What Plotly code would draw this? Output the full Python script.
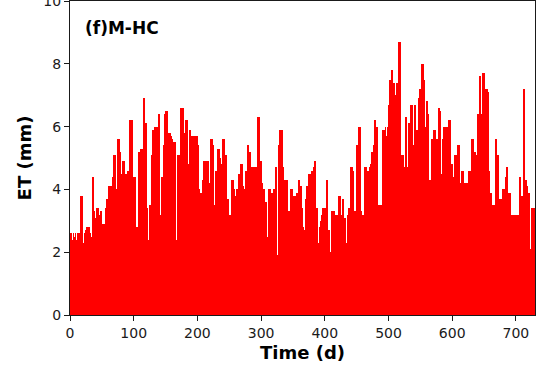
import numpy as np
import plotly.graph_objects as go

# Daily ET (mm), day 0..729
et_values = [
    2.6, 2.5, 2.6, 2.4, 2.3, 2.6, 2.5, 2.3, 2.6, 2.4,
    2.3, 2.6, 2.5, 2.4, 2.6, 2.6, 3.8, 3.8, 3.8, 3.8,
    2.3, 2.2, 2.0, 2.6, 2.7, 2.6, 2.8, 2.8, 2.8, 2.7,
    2.8, 2.6, 2.5, 2.2, 1.5, 4.4, 4.4, 3.3, 3.3, 3.1,
    3.0, 3.0, 3.4, 3.4, 3.4, 2.7, 3.2, 3.2, 3.3, 3.3,
    2.9, 2.9, 2.9, 2.9, 1.7, 1.7, 3.4, 3.4, 3.7, 3.7,
    3.7, 4.1, 4.1, 4.1, 4.1, 3.7, 4.4, 4.4, 4.4, 5.1,
    5.1, 5.1, 4.0, 3.6, 3.4, 5.6, 5.6, 5.6, 5.2, 5.2,
    4.5, 4.5, 4.5, 4.9, 4.9, 4.4, 4.4, 4.5, 4.4, 4.4,
    3.3, 4.6, 4.6, 4.6, 6.2, 6.2, 6.2, 6.2, 4.4, 4.4,
    4.4, 4.4, 4.4, 2.4, 2.8, 2.8, 2.2, 2.2, 5.2, 5.2,
    5.3, 5.3, 5.3, 5.3, 5.3, 6.9, 6.9, 6.1, 6.1, 6.1,
    3.4, 3.4, 2.4, 2.4, 2.4, 3.5, 3.5, 3.5, 5.1, 5.1,
    5.9, 5.9, 6.0, 6.0, 6.0, 6.0, 6.0, 6.0, 6.0, 6.4,
    6.4, 3.2, 3.2, 4.4, 4.4, 4.4, 5.4, 5.4, 5.4, 6.4,
    6.5, 6.5, 6.5, 4.4, 4.4, 5.8, 5.8, 5.7, 5.7, 5.6,
    5.6, 5.5, 5.5, 5.5, 5.5, 5.5, 2.4, 2.4, 5.1, 5.1,
    5.1, 5.1, 5.1, 6.5, 6.6, 6.6, 6.6, 6.6, 5.8, 5.8,
    5.7, 5.7, 6.2, 6.2, 6.2, 4.8, 4.8, 5.9, 5.9, 5.6,
    5.6, 5.7, 5.7, 5.7, 5.7, 5.2, 5.2, 5.7, 5.7, 5.7,
    5.4, 5.4, 4.0, 4.0, 3.9, 3.9, 3.5, 3.5, 4.3, 4.3,
    4.9, 4.9, 4.9, 4.9, 4.5, 4.5, 4.9, 4.9, 4.2, 4.2,
    4.2, 5.6, 5.6, 5.4, 5.4, 2.8, 2.8, 3.5, 3.5, 4.6,
    4.6, 5.3, 5.3, 5.3, 5.3, 5.0, 5.0, 4.8, 4.8, 5.6,
    5.6, 5.6, 5.6, 5.1, 5.1, 5.1, 3.7, 3.7, 3.7, 3.2,
    3.2, 3.2, 2.9, 2.9, 4.3, 4.3, 4.0, 4.0, 3.7, 3.7,
    3.8, 3.8, 4.0, 4.0, 4.5, 4.5, 4.4, 4.4, 4.8, 4.8,
    4.8, 4.1, 4.1, 4.0, 4.0, 4.6, 4.6, 4.0, 4.0, 5.4,
    5.4, 5.2, 5.2, 3.8, 3.8, 4.7, 4.7, 4.7, 4.7, 4.6,
    4.6, 4.7, 4.7, 4.7, 4.7, 6.3, 6.3, 6.3, 4.9, 4.9,
    4.2, 4.2, 4.0, 4.0, 4.0, 3.6, 3.6, 3.6, 3.6, 2.5,
    2.5, 4.0, 4.0, 4.0, 4.0, 3.9, 3.9, 3.9, 2.6, 2.6,
    4.0, 4.0, 4.7, 4.7, 1.9, 1.9, 1.4, 5.4, 5.4, 5.9,
    5.9, 5.9, 5.9, 4.7, 4.7, 4.3, 4.3, 4.3, 3.7, 3.7,
    4.3, 4.3, 3.3, 3.3, 2.6, 2.6, 4.0, 4.0, 4.0, 4.0,
    3.8, 3.8, 3.8, 3.8, 3.2, 3.2, 3.9, 3.9, 4.3, 4.3,
    4.3, 4.1, 4.1, 3.4, 3.4, 2.8, 2.8, 2.7, 2.7, 3.7,
    3.7, 4.1, 4.1, 4.1, 4.5, 4.5, 4.5, 3.7, 3.7, 4.6,
    4.6, 4.6, 4.6, 4.7, 4.9, 4.9, 3.3, 3.4, 2.3, 2.3,
    2.3, 2.8, 2.8, 3.0, 3.0, 3.2, 3.2, 3.4, 3.4, 3.4,
    3.4, 3.4, 4.3, 4.3, 4.3, 2.7, 2.7, 2.4, 2.0, 2.0,
    3.3, 3.3, 3.3, 3.3, 3.3, 2.2, 2.2, 3.2, 3.2, 3.2,
    3.2, 3.2, 3.8, 3.8, 3.2, 3.2, 3.2, 3.2, 3.7, 3.7,
    3.1, 3.1, 2.3, 2.3, 2.3, 3.2, 3.2, 3.4, 3.4, 2.1,
    2.1, 4.7, 4.7, 4.6, 4.6, 2.9, 2.9, 3.3, 3.3, 5.4,
    5.4, 5.4, 5.4, 6.0, 6.0, 6.0, 3.3, 3.3, 3.2, 3.2,
    3.1, 3.1, 4.7, 4.7, 4.7, 4.7, 4.6, 4.6, 4.4, 4.4,
    4.7, 4.7, 4.8, 4.8, 5.2, 5.2, 5.4, 5.4, 6.2, 6.2,
    6.0, 6.0, 6.0, 3.4, 3.4, 3.5, 3.5, 3.5, 3.5, 3.3,
    3.3, 5.9, 5.9, 5.9, 5.9, 6.0, 5.7, 5.7, 6.0, 6.0,
    6.7, 6.7, 7.5, 7.5, 7.6, 7.8, 7.8, 7.4, 7.4, 7.0,
    7.0, 6.0, 6.0, 7.4, 7.4, 7.4, 8.7, 8.7, 8.7, 5.0,
    5.0, 5.1, 5.1, 5.1, 4.7, 4.7, 4.7, 6.3, 6.3, 4.7,
    4.7, 6.1, 6.1, 5.9, 5.9, 6.7, 6.7, 4.7, 4.7, 5.4,
    5.4, 6.7, 6.7, 5.9, 5.9, 4.9, 4.9, 6.9, 6.9, 7.2,
    7.2, 7.2, 8.0, 8.0, 8.0, 7.5, 7.5, 6.0, 6.0, 6.8,
    6.8, 6.4, 6.4, 4.0, 4.0, 4.3, 4.3, 5.6, 5.6, 5.6,
    5.6, 5.9, 5.9, 5.9, 4.0, 4.0, 5.6, 5.6, 6.6, 6.6,
    6.5, 6.5, 4.5, 4.5, 5.6, 5.6, 6.0, 6.0, 4.9, 4.9,
    6.0, 6.0, 5.9, 5.9, 6.2, 6.2, 6.2, 6.2, 4.8, 4.8,
    4.4, 4.4, 4.4, 4.4, 5.1, 5.1, 5.1, 5.1, 5.4, 5.4,
    5.4, 4.2, 4.2, 3.9, 3.9, 4.6, 4.6, 4.6, 3.8, 3.8,
    4.2, 4.2, 3.7, 3.7, 4.2, 4.6, 4.6, 4.6, 4.6, 4.6,
    5.6, 5.6, 5.6, 5.1, 5.1, 5.2, 5.2, 5.1, 5.1, 6.4,
    6.4, 6.4, 6.4, 7.6, 7.6, 6.4, 6.4, 7.7, 7.7, 7.7,
    7.7, 6.0, 6.0, 7.2, 7.2, 7.1, 7.1, 4.6, 4.6, 3.9,
    3.9, 2.3, 2.3, 3.5, 3.5, 3.5, 3.5, 3.5, 5.6, 5.6,
    5.1, 5.1, 3.7, 3.7, 3.7, 3.7, 3.7, 2.3, 2.3, 4.0,
    4.0, 4.0, 4.0, 4.4, 4.4, 4.7, 4.7, 3.9, 3.9, 3.9,
    3.9, 2.3, 2.3, 3.2, 3.2, 2.4, 2.4, 3.2, 3.2, 3.2,
    3.2, 3.2, 3.2, 3.2, 1.7, 1.7, 4.4, 4.4, 3.8, 3.8,
    3.8, 3.8, 7.2, 7.2, 4.3, 4.3, 4.1, 4.1, 3.9, 3.9,
    3.9, 1.5, 1.5, 2.1, 2.1, 3.4, 3.4, 3.4, 3.4, 3.4,
]
days = list(range(len(et_values)))

x_ticks = [0, 100, 200, 300, 400, 500, 600, 700]
y_ticks = [0, 2, 4, 6, 8, 10]
panel_label = "(f)M-HC"
x_title = "Time (d)"
y_title = "ET (mm)"

FONT = "DejaVu Sans"
INK = "#1a1a1a"

fig = go.Figure()
fig.add_trace(go.Bar(
    x=days, y=et_values, width=1, offset=0,
    marker=dict(color="#ff0000", line=dict(width=0)),
    showlegend=False,
))

axis_common = dict(
    showline=True, mirror=True, linecolor=INK, linewidth=1.1,
    ticks="outside", ticklen=5, tickwidth=1.1, tickcolor=INK,
    showgrid=False, zeroline=False, ticklabeloverflow="allow",
    automargin=False,
    tickfont=dict(family=FONT, size=14, color=INK),
)

fig.update_layout(
    width=542, height=383,
    margin=dict(l=70, r=7, t=1, b=68),
    plot_bgcolor="white", paper_bgcolor="white",
    bargap=0,
    xaxis=dict(range=[0, 730], tickvals=x_ticks, **axis_common,
               title=dict(text="<b>" + x_title + "</b>", font=dict(family=FONT, size=18, color="black"), standoff=6)),
    yaxis=dict(range=[0, 10.0001], tickvals=y_ticks, **axis_common,
               title=dict(text="<b>" + y_title + "</b>", font=dict(family=FONT, size=18, color="black"), standoff=7)),
    annotations=[dict(
        text="<b>" + panel_label + "</b>", xref="paper", yref="paper",
        x=0.028, y=0.914, xanchor="left", yanchor="middle", showarrow=False,
        font=dict(family=FONT, size=17, color="black"),
    )],
)

fig.write_html("out.html")
